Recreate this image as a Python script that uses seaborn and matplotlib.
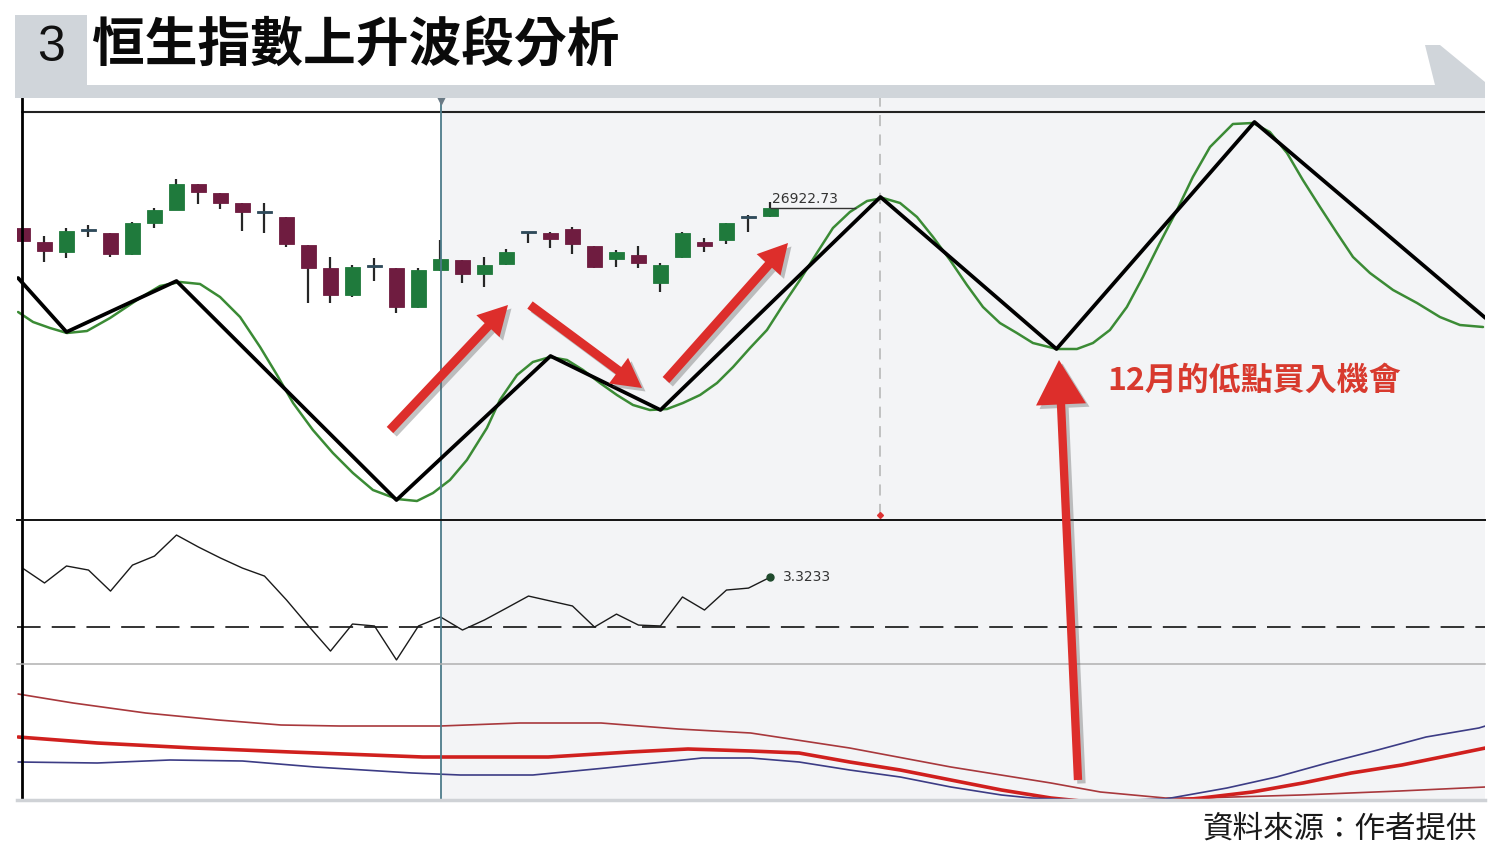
import matplotlib
matplotlib.use("Agg")
import matplotlib.pyplot as plt
import numpy as np
import seaborn as sns
from matplotlib.patches import Polygon, FancyArrowPatch, ArrowStyle
from matplotlib import patheffects as pe

sns.set_theme(style="white")
plt.rcParams['font.family'] = ['Noto Sans CJK TC', 'DejaVu Sans']
plt.rcParams['lines.scale_dashes'] = False

# ---- data ----
candle_open = [26720, 26580, 26480, 26690, 26670, 26460, 26770, 26900, 27160, 27070,
               26970, 26875, 26830, 26550, 26320, 26050, 26330, 26320, 25930, 26300,
               26400, 26260, 26360, 26670, 26670, 26710, 26540, 26410, 26450, 26170,
               26430, 26580, 26600, 26820, 26840]
candle_close = [26590, 26490, 26690, 26695, 26460, 26770, 26900, 27160, 27080, 26970,
                26880, 26870, 26560, 26320, 26050, 26330, 26335, 25930, 26300, 26410,
                26260, 26350, 26480, 26670, 26610, 26560, 26330, 26480, 26370, 26350,
                26670, 26540, 26770, 26830, 26922.73]
candle_high = [26720, 26640, 26720, 26750, 26670, 26780, 26920, 27210, 27160, 27070,
               26970, 26970, 26830, 26550, 26430, 26350, 26420, 26320, 26320, 26600,
               26400, 26430, 26510, 26670, 26680, 26730, 26540, 26500, 26540, 26370,
               26680, 26620, 26770, 26850, 26980]
candle_low = [26590, 26380, 26420, 26630, 26430, 26450, 26720, 26900, 26960, 26910,
              26690, 26670, 26530, 25970, 25970, 26030, 26190, 25870, 25920, 26290,
              26170, 26130, 26350, 26570, 26520, 26460, 26320, 26330, 26320, 26080,
              26420, 26480, 26560, 26680, 26830]

zigzag_x = [-0.2, 2, 7, 17, 24, 29, 39, 47, 56, 66.5]
zigzag_y = [26220, 25680, 26190, 24000, 25440, 24900, 27030, 25510, 27780, 25820]

ma_x = [-0.2, 0.48, 1.25, 2.02, 2.93, 3.98, 5.34, 6.25, 7.16, 8.07, 8.98, 9.89, 10.8,
        11.57, 12.3, 13.2, 14.11, 15.02, 15.93, 17.02, 17.93, 18.66, 19.43, 20.2, 21.11,
        21.7, 22.48, 23.2, 23.98, 24.75, 25.48, 26.25, 27.02, 27.75, 28.52, 29.3, 30.02,
        30.8, 31.57, 32.3, 33.07, 33.84, 34.57, 35.34, 36.11, 36.84, 37.61, 38.39, 39.11,
        39.89, 40.66, 41.39, 42.16, 42.93, 43.66, 44.43, 45.2, 45.93, 47.02, 47.93, 48.66,
        49.43, 50.2, 50.93, 51.7, 52.48, 53.2, 53.98, 55.02, 55.93, 56.7, 57.48, 58.2,
        58.98, 59.75, 60.48, 61.25, 62.3, 63.39, 64.43, 65.34, 66.39]
ma_y = [25880, 25780, 25720, 25670, 25690, 25820, 26020, 26140, 26180, 26160, 26030,
        25830, 25530, 25250, 24970, 24700, 24470, 24270, 24100, 24010, 23990, 24070,
        24200, 24400, 24720, 25000, 25250, 25380, 25430, 25400, 25300, 25170, 25050,
        24950, 24900, 24910, 24970, 25050, 25170, 25330, 25520, 25700, 25950, 26200,
        26470, 26720, 26880, 26990, 27020, 26970, 26830, 26630, 26400, 26150, 25930,
        25770, 25670, 25570, 25510, 25510, 25570, 25700, 25930, 26230, 26570, 26900,
        27230, 27530, 27760, 27770, 27680, 27470, 27200, 26930, 26670, 26430, 26270,
        26100, 25970, 25830, 25750, 25730]

osc_values = [3.92, 2.93, 4.06, 3.79, 2.39, 4.12, 4.72, 6.12, 5.32, 4.59, 3.92, 3.39,
              1.80, 0.07, -1.60, 0.20, 0.07, -2.19, 0.07, 0.67, -0.20, 0.47, 1.26, 2.06,
              1.73, 1.40, 0.00, 0.86, 0.13, 0.07, 2.00, 1.13, 2.46, 2.59, 3.3233]

upper_x = [-0.2, 2.3, 5.6, 8.9, 11.75, 14.4, 19.0, 22.6, 26.3, 29.8, 33.1, 37.6, 42.2,
           46.75, 49.0, 51.95, 53.5, 58.1, 62.6, 66.5]
upper_y = [106, 97, 87, 80, 75, 74, 74, 77, 77, 71, 67, 52, 33, 17, 8, 2, 2, 5, 9, 13]
mid_x = [-0.2, 3.4, 7.8, 12.2, 18.2, 23.9, 27.6, 30.25, 33.1, 35.3, 37.6, 39.9, 42.2,
         44.5, 46.75, 49.0, 51.25, 53.6, 55.9, 58.2, 60.4, 62.7, 64.95, 66.5]
mid_y = [63, 57, 52, 48, 43, 43, 48, 51, 49, 47, 38, 30, 20, 10, 2, -3, -3, 2, 8, 17,
         27, 35, 45, 52]
lower_x = [-0.2, 3.4, 6.7, 10.0, 13.3, 17.7, 19.9, 23.2, 26.5, 30.9, 33.1, 35.3, 37.6,
           39.9, 42.2, 44.5, 45.85, 49.0, 51.95, 54.75, 57.0, 59.3, 61.6, 63.8, 66.2, 66.5]
lower_y = [38, 37, 40, 39, 33, 27, 25, 25, 32, 42, 42, 38, 30, 23, 13, 5, 2, -1, 1, 12,
           23, 37, 50, 63, 72, 74]

split_bar = 19
title_no = "3"
title = "恒生指數上升波段分析"
note = "12月的低點買入機會"
source = "資料來源：作者提供"

# ---- colours ----
GREEN = '#1f7a3c'
MAROON = '#6f1c40'
DOJI = '#2f4a5a'
SHADE = '#f3f4f6'
TEAL = '#4d7c8a'
RED = '#dd2e2b'

W, H = 1510, 868
fig = plt.figure(figsize=(W / 100, H / 100), dpi=100)


def px_axes(x0, y0, x1, y1):
    a = fig.add_axes([x0 / W, 1 - y1 / H, (x1 - x0) / W, (y1 - y0) / H])
    a.set_xticks([])
    a.set_yticks([])
    for s in a.spines.values():
        s.set_visible(False)
    a.set_facecolor('white')
    a.set_xlim(-0.25, 66.48)
    return a


def show_spine(a, side, color, lw):
    a.spines[side].set_visible(True)
    a.spines[side].set_color(color)
    a.spines[side].set_linewidth(lw)
    a.spines[side].set_zorder(8)


ax_main = px_axes(17, 98, 1485, 520)
ax_osc = px_axes(17, 520, 1485, 664)
ax_low = px_axes(17, 664, 1485, 800)
ax_main.set_ylim(23800, 28020)
ax_osc.set_ylim(-2.46, 7.12)
ax_low.set_ylim(0, 136)

for a in (ax_main, ax_osc, ax_low):
    a.axvspan(split_bar + 0.02, 66.48, color=SHADE, lw=0, zorder=0)
    a.axvline(-0.02, color='black', lw=2, zorder=6)
    a.axvline(split_bar + 0.02, color=TEAL, lw=1.3, zorder=6)

# ---- main panel: candles, MA and zigzag ----
o = np.array(candle_open)
c = np.array(candle_close)
xs = np.arange(len(o))
body_lo = np.minimum(o, c)
body_h = np.maximum(np.abs(c - o), 25)
cols = [DOJI if abs(cc - oo) < 15 else (GREEN if cc > oo else MAROON) for oo, cc in zip(o, c)]
ax_main.vlines(xs, candle_low, candle_high, color='#262626', lw=1.6, zorder=3)
ax_main.bar(xs, body_h, bottom=body_lo, width=0.72, color=cols, edgecolor=cols,
            lw=0.6, zorder=4)

ax_main.axhline(27880, xmin=5 / 1468, color='#222222', lw=1.5, zorder=5)
peak = zigzag_x[6]
ax_main.axvline(peak, ymin=0.012, color='#b8b8b8', lw=1.2, dashes=(8, 6), zorder=1)
ax_main.plot([peak], [23850], marker='D', ms=3, color='#d33', zorder=5)
ax_main.plot([split_bar + 0.02], [28000], marker='v', ms=6, color='#6a7a85',
             clip_on=False, zorder=7)

sns.lineplot(x=ma_x, y=ma_y, color='#3b8b35', lw=1.8, ax=ax_main, sort=False,
             estimator=None, zorder=5)
sns.lineplot(x=zigzag_x, y=zigzag_y, color='black', lw=2.7, ax=ax_main, sort=False,
             estimator=None, zorder=6)

ax_main.hlines(candle_close[-1], xs[-1], 37.9, color='#333333', lw=1, zorder=5)
ax_main.text(xs[-1] + 0.05, candle_close[-1] + 20, f"{candle_close[-1]:.2f}",
             fontsize=10, color='#333333', family='DejaVu Sans', va='bottom', ha='left')

# ---- oscillator panel ----
show_spine(ax_osc, 'top', '#111111', 1.4)
ax_osc.axhline(0, color='#111111', lw=1.2, dashes=(17, 8), zorder=2)
sns.lineplot(x=xs, y=osc_values, color='#1a1a1a', lw=1.0, ax=ax_osc, estimator=None,
             zorder=4)
ax_osc.plot([xs[-1]], [osc_values[-1]], 'o', ms=5, color='#1f4a2c', zorder=5)
ax_osc.text(xs[-1] + 0.55, osc_values[-1], f"{osc_values[-1]:.4f}", fontsize=10,
            color='#333333', family='DejaVu Sans', va='center', ha='left')

# ---- lower panel ----
show_spine(ax_low, 'top', '#b0b0b0', 1.1)
sns.lineplot(x=upper_x, y=upper_y, color='#a8383c', lw=1.2, ax=ax_low, estimator=None)
sns.lineplot(x=mid_x, y=mid_y, color='#d0201e', lw=2.6, ax=ax_low, estimator=None)
sns.lineplot(x=lower_x, y=lower_y, color='#3c3c85', lw=1.2, ax=ax_low, estimator=None)
show_spine(ax_low, 'bottom', '#cfd2d6', 2.5)

# ---- overlay: title band, arrows, notes ----
ov = fig.add_axes([0, 0, 1, 1], zorder=10)
ov.set_xlim(0, W)
ov.set_ylim(H, 0)
ov.axis('off')
ov.patch.set_alpha(0)

band = [(15, 15), (87, 15), (87, 85), (1435, 85), (1425, 45), (1440, 45),
        (1485, 82), (1485, 98), (15, 98)]
ov.add_patch(Polygon(band, closed=True, color='#d0d5da', lw=0))
ov.text(51, 48, title_no, fontsize=36, color='#111111',
        family=['Liberation Sans', 'DejaVu Sans'], ha='center', va='center')
ov.text(92, 46, title, fontsize=38, weight='bold', color='#0a0a0a', ha='left',
        va='center')

shadow = [pe.withSimplePatchShadow(offset=(2.5, -2.5), shadow_rgbFace='#555555',
                                   alpha=0.35)]
small = ArrowStyle.Simple(head_length=21, head_width=23, tail_width=6.5)
big = ArrowStyle.Simple(head_length=32, head_width=36, tail_width=6)
for (xa, ya), (xb, yb), st in [((390, 430), (508, 305), small),
                               ((530, 305), (642, 388), small),
                               ((666, 380), (788, 243), small),
                               ((1078, 780), (1059, 360), big)]:
    ov.add_patch(FancyArrowPatch((xa, ya), (xb, yb), arrowstyle=st, mutation_scale=1,
                                 color=RED, lw=0, shrinkA=0, shrinkB=0,
                                 path_effects=shadow))

ov.text(1107, 381, note, fontsize=23, weight='bold', color='#d83a2e', ha='left',
        va='center')
ov.text(1477, 829, source, fontsize=22, color='#1a1a1a', ha='right', va='center')

fig.savefig('out.png', dpi=100)
